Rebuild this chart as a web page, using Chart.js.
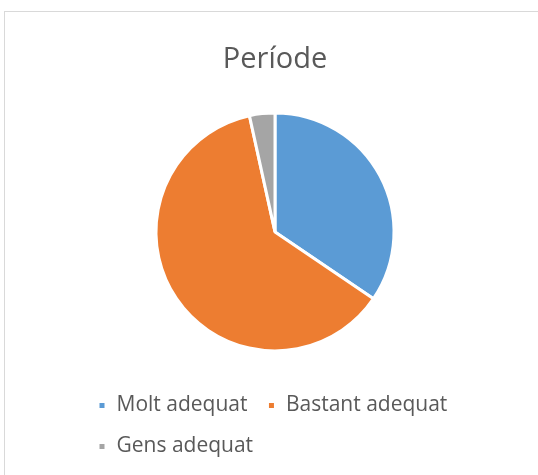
<!DOCTYPE html>
<html>
<head>
<meta charset="utf-8">
<script src="https://cdn.jsdelivr.net/npm/chart.js@4/dist/chart.umd.min.js"></script>
<style>
  html, body { margin: 0; padding: 0; background: #fff; overflow: hidden; }
  #frame {
    position: absolute; left: 4px; top: 11px; width: 560px; height: 500px;
    border: 1.5px solid #d9d9d9; box-sizing: border-box;
  }
  #wrap { position: absolute; left: 0; top: 0; width: 538px; height: 475px; }
</style>
</head>
<body>
<div id="frame"></div>
<div id="wrap"><canvas id="pieChart" width="538" height="475"></canvas></div>
<script>
const categories = ['Molt adequat', 'Bastant adequat', 'Gens adequat'];
const values = [10, 18, 1];
const colors = ['#5B9BD5', '#ED7D31', '#A5A5A5'];
const titleText = 'Període';

const ctx = document.getElementById('pieChart');
new Chart(ctx, {
  type: 'pie',
  data: {
    labels: categories,
    datasets: [{
      data: values,
      backgroundColor: colors,
      borderColor: '#ffffff',
      borderWidth: 3,
      radius: 119
    }]
  },
  options: {
    responsive: false,
    animation: false,
    layout: {
      padding: { top: 10, left: 78, right: 66, bottom: 8 }
    },
    plugins: {
      title: {
        display: true,
        text: titleText,
        color: '#595959',
        font: { family: 'Open Sans', size: 29, weight: 'normal' },
        padding: { top: 32, bottom: 12 }
      },
      legend: {
        position: 'bottom',
        align: 'start',
        labels: {
          color: '#595959',
          font: { family: 'Open Sans', size: 21 },
          boxWidth: 8,
          boxHeight: 8,
          padding: 20
        }
      },
      tooltip: { enabled: false }
    }
  }
});
</script>
</body>
</html>
